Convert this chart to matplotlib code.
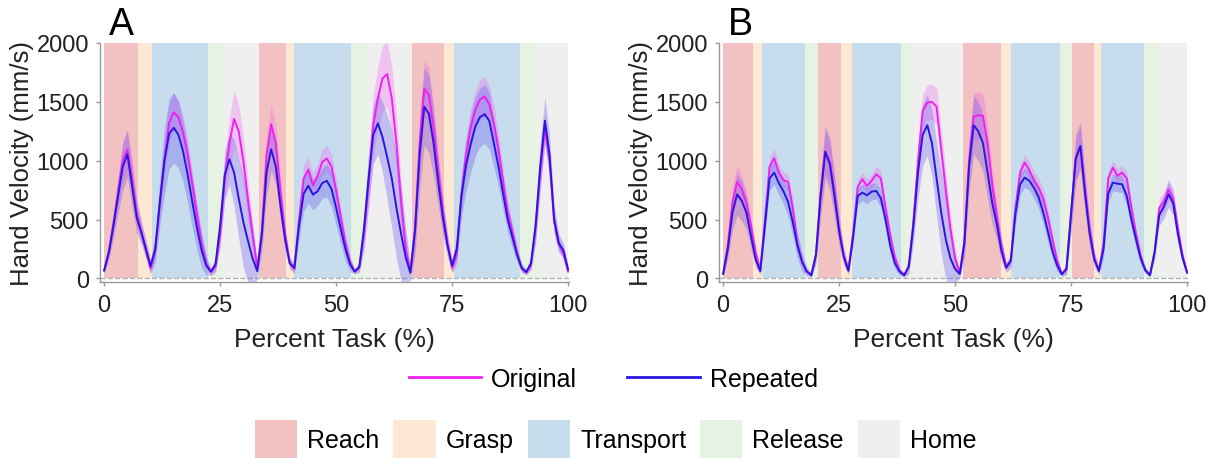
import numpy as np
import matplotlib.pyplot as plt
from matplotlib.patches import Patch
from matplotlib.lines import Line2D

plt.rcParams['font.family'] = ['Liberation Sans', 'DejaVu Sans']

# percent of task, 1% steps
pct = np.arange(0, 101)

# ---- panel A ----
a_orig = [68, 230, 470, 740, 1000, 1095, 850, 560, 400, 240,
          85, 230, 640, 1020, 1320, 1412, 1370, 1240, 1050, 800,
          540, 300, 130, 55, 100, 380, 850, 1150, 1355, 1250,
          1000, 670, 370, 90, 400, 1050, 1310, 1150, 750, 380,
          130, 80, 500, 850, 925, 790, 870, 990, 1018, 950,
          750, 520, 300, 140, 60, 90, 380, 800, 1300, 1530,
          1700, 1736, 1530, 1150, 650, 250, 55, 420, 1150, 1610,
          1560, 1280, 920, 580, 300, 90, 200, 700, 1050, 1280,
          1430, 1520, 1545, 1480, 1320, 1100, 820, 560, 400, 220,
          85, 50, 110, 420, 900, 1280, 1000, 480, 290, 210,
          60]
a_orig_sd = [20, 60, 100, 130, 160, 170, 150, 120, 90, 70,
             50, 80, 130, 150, 160, 160, 150, 140, 130, 110,
             90, 70, 50, 30, 50, 120, 180, 220, 240, 230,
             200, 170, 120, 40, 120, 180, 170, 150, 120, 80,
             40, 40, 100, 120, 110, 100, 100, 110, 110, 110,
             100, 90, 70, 40, 20, 40, 150, 220, 260, 270,
             280, 280, 270, 250, 200, 120, 40, 150, 220, 240,
             230, 200, 160, 120, 80, 40, 80, 130, 160, 170,
             170, 170, 170, 160, 150, 130, 110, 90, 70, 50,
             30, 20, 40, 100, 130, 130, 120, 90, 60, 50,
             30]
a_rep = [68, 220, 450, 700, 950, 1055, 790, 520, 390, 250,
         105, 250, 650, 1000, 1230, 1280, 1220, 1080, 880, 650,
         430, 240, 110, 58, 120, 450, 880, 1012, 900, 680,
         480, 320, 170, 62, 380, 900, 1098, 950, 620, 330,
         130, 90, 450, 720, 788, 712, 740, 810, 830, 760,
         600, 420, 250, 120, 58, 100, 420, 850, 1220, 1318,
         1200, 1030, 850, 600, 380, 180, 48, 400, 1050, 1458,
         1400, 1150, 820, 520, 280, 110, 250, 700, 960, 1140,
         1290, 1370, 1396, 1340, 1150, 950, 720, 500, 350, 200,
         90, 55, 130, 450, 950, 1340, 1050, 500, 300, 240,
         75]
a_rep_sd = [20, 60, 100, 150, 200, 200, 180, 130, 100, 80,
            60, 100, 200, 280, 300, 300, 280, 260, 240, 220,
            190, 150, 80, 30, 60, 150, 200, 220, 280, 340,
            380, 360, 280, 60, 150, 200, 180, 150, 120, 90,
            50, 40, 120, 150, 150, 130, 120, 130, 140, 150,
            150, 130, 100, 60, 20, 40, 150, 220, 250, 260,
            300, 360, 420, 430, 400, 250, 60, 200, 300, 330,
            330, 280, 200, 150, 100, 60, 100, 180, 220, 240,
            250, 250, 250, 240, 200, 170, 140, 110, 90, 60,
            40, 25, 50, 150, 200, 200, 180, 120, 80, 60,
            30]
a_edges = [0, 7.2, 10.3, 22.3, 25.3, 33.4, 39.1, 40.9, 53.2, 56.5,
           66.3, 73.3, 75.4, 89.7, 93.4, 100]
a_phases = ['Reach', 'Grasp', 'Transport', 'Release', 'Home',
            'Reach', 'Grasp', 'Transport', 'Release', 'Home',
            'Reach', 'Grasp', 'Transport', 'Release', 'Home']

# ---- panel B ----
b_orig = [40, 280, 650, 820, 760, 640, 450, 220, 70, 500,
          950, 1021, 900, 835, 820, 600, 300, 150, 60, 30,
          200, 720, 1082, 990, 730, 420, 200, 70, 380, 780,
          843, 786, 830, 885, 850, 600, 370, 180, 70, 28,
          100, 480, 1000, 1420, 1495, 1500, 1460, 1100, 750, 420,
          170, 45, 320, 1000, 1375, 1387, 1380, 1150, 800, 520,
          280, 100, 150, 600, 900, 985, 920, 830, 770, 680,
          520, 330, 150, 40, 80, 560, 1010, 1118, 760, 420,
          180, 60, 300, 850, 942, 872, 899, 850, 600, 380,
          190, 70, 28, 230, 600, 650, 757, 680, 430, 200,
          50]
b_orig_sd = [20, 80, 130, 140, 120, 100, 80, 60, 30, 70,
             80, 80, 70, 70, 70, 80, 60, 40, 20, 15,
             70, 150, 180, 180, 150, 100, 60, 30, 50, 60,
             60, 60, 60, 70, 70, 60, 50, 40, 30, 15,
             60, 120, 150, 150, 150, 150, 160, 180, 160, 120,
             80, 20, 100, 180, 200, 200, 190, 170, 140, 100,
             70, 30, 40, 60, 70, 70, 70, 80, 80, 80,
             70, 50, 30, 15, 40, 130, 180, 170, 130, 80,
             50, 20, 50, 60, 60, 60, 60, 60, 50, 40,
             30, 20, 10, 50, 80, 90, 90, 80, 60, 40,
             20]
b_rep = [40, 250, 560, 715, 660, 560, 360, 160, 62, 450,
         850, 899, 810, 740, 650, 480, 280, 140, 60, 28,
         200, 700, 1075, 970, 700, 400, 180, 65, 350, 700,
         729, 706, 738, 743, 680, 500, 280, 130, 60, 28,
         100, 450, 900, 1220, 1302, 1150, 850, 560, 330, 170,
         80, 38, 300, 950, 1302, 1250, 1150, 900, 640, 460,
         230, 90, 150, 550, 800, 857, 830, 770, 690, 560,
         400, 230, 110, 35, 80, 550, 1020, 1126, 720, 380,
         160, 65, 250, 720, 814, 805, 800, 700, 500, 330,
         170, 70, 28, 220, 540, 610, 715, 640, 380, 180,
         50]
b_rep_sd = [20, 80, 150, 180, 170, 140, 110, 70, 30, 80,
            100, 100, 100, 110, 120, 120, 110, 80, 40, 20,
            80, 180, 220, 220, 180, 120, 70, 30, 60, 70,
            70, 70, 70, 70, 80, 80, 70, 50, 30, 20,
            60, 150, 220, 260, 260, 280, 320, 350, 340, 250,
            120, 30, 120, 220, 250, 250, 240, 220, 180, 130,
            90, 40, 60, 90, 90, 80, 80, 90, 100, 100,
            90, 70, 50, 20, 50, 150, 200, 200, 160, 110,
            60, 30, 70, 70, 70, 70, 70, 80, 80, 70,
            50, 30, 15, 60, 90, 100, 110, 100, 80, 50,
            20]
b_edges = [0, 6.5, 8.3, 17.6, 20.5, 25.5, 27.7, 38.3, 40.9, 51.7,
           59.9, 62.1, 72.5, 75.3, 80.0, 81.4, 90.8, 93.8, 100]
b_phases = ['Reach', 'Grasp', 'Transport', 'Release',
            'Reach', 'Grasp', 'Transport', 'Release', 'Home',
            'Reach', 'Grasp', 'Transport', 'Release',
            'Reach', 'Grasp', 'Transport', 'Release', 'Home']

phase_names = ['Reach', 'Grasp', 'Transport', 'Release', 'Home']
phase_colors = {'Reach': '#f2c1c1', 'Grasp': '#fde8d3', 'Transport': '#c7dcec',
                'Release': '#e6f3e2', 'Home': '#efefef'}
orig_color = '#ee22ee'
rep_color = '#2b16e0'


def draw(ax, edges, phases, orig, orig_sd, rep, rep_sd, letter):
    for i, ph in enumerate(phases):
        ax.fill_betweenx([0, 2000], edges[i], edges[i + 1],
                         color=phase_colors[ph], lw=0, zorder=0)
    ax.axhline(0, color='#b0b0b0', ls='--', lw=1, zorder=1)
    orig = np.array(orig, float)
    rep = np.array(rep, float)
    orig_sd = np.array(orig_sd, float)
    rep_sd = np.array(rep_sd, float)
    ax.fill_between(pct, orig - orig_sd, orig + orig_sd, color='#f060f0',
                    alpha=0.3, lw=0, zorder=2)
    ax.fill_between(pct, rep - rep_sd, rep + rep_sd, color='#5a4cf2',
                    alpha=0.3, lw=0, zorder=2)
    ax.plot(pct, orig, color=orig_color, lw=1.4, zorder=3)
    ax.plot(pct, rep, color=rep_color, lw=1.4, zorder=4)
    ax.set_xlim(-0.9, 100.2)
    ax.set_ylim(-30, 2000)
    ax.set_xticks([0, 25, 50, 75, 100])
    ax.set_yticks([0, 500, 1000, 1500, 2000])
    for s in ['top', 'right']:
        ax.spines[s].set_visible(False)
    for s in ['left', 'bottom']:
        ax.spines[s].set_color('#999999')
        ax.spines[s].set_linewidth(1)
    ax.tick_params(colors='#999999', labelcolor='#222222', labelsize=17,
                   length=3, width=1)
    ax.tick_params(axis='x', pad=6)
    ax.tick_params(axis='y', pad=5)
    ax.set_xlabel('Percent Task (%)', fontsize=19, color='#222222')
    ax.set_ylabel('Hand Velocity (mm/s)', fontsize=18.5, color='#222222')
    ax.xaxis.set_label_coords(0.5, -0.24)
    ax.xaxis.label.set_va('center')
    ax.yaxis.set_label_coords(-0.166, 0.5)
    ax.yaxis.label.set_va('center')
    ax.text(0.018, 1.08, letter, transform=ax.transAxes, fontsize=27,
            ha='left', va='center')


fig = plt.figure(figsize=(12.12, 4.6), dpi=100)
ax_a = fig.add_axes([100 / 1212, 1 - 283 / 460, 469 / 1212, 239 / 460])
ax_b = fig.add_axes([719 / 1212, 1 - 283 / 460, 469 / 1212, 239 / 460])
draw(ax_a, a_edges, a_phases, a_orig, a_orig_sd, a_rep, a_rep_sd, 'A')
draw(ax_b, b_edges, b_phases, b_orig, b_orig_sd, b_rep, b_rep_sd, 'B')

line_handles = [Line2D([], [], color=orig_color, lw=2),
                Line2D([], [], color=rep_color, lw=2)]
fig.legend(line_handles, ['Original', 'Repeated'], loc='center',
           bbox_to_anchor=(0.506, 1 - 380 / 460), ncol=2, frameon=False,
           fontsize=18, handlelength=2.9, handletextpad=0.4,
           columnspacing=2.0, borderpad=0)

patch_handles = [Patch(facecolor=phase_colors[p], edgecolor='none')
                 for p in phase_names]
fig.legend(patch_handles, phase_names, loc='center',
           bbox_to_anchor=(0.508, 1 - 440 / 460), ncol=5, frameon=False,
           fontsize=18, handlelength=1.7, handleheight=2.0,
           handletextpad=0.4, columnspacing=0.55, borderpad=0)

fig.savefig('out.png', dpi=100)
